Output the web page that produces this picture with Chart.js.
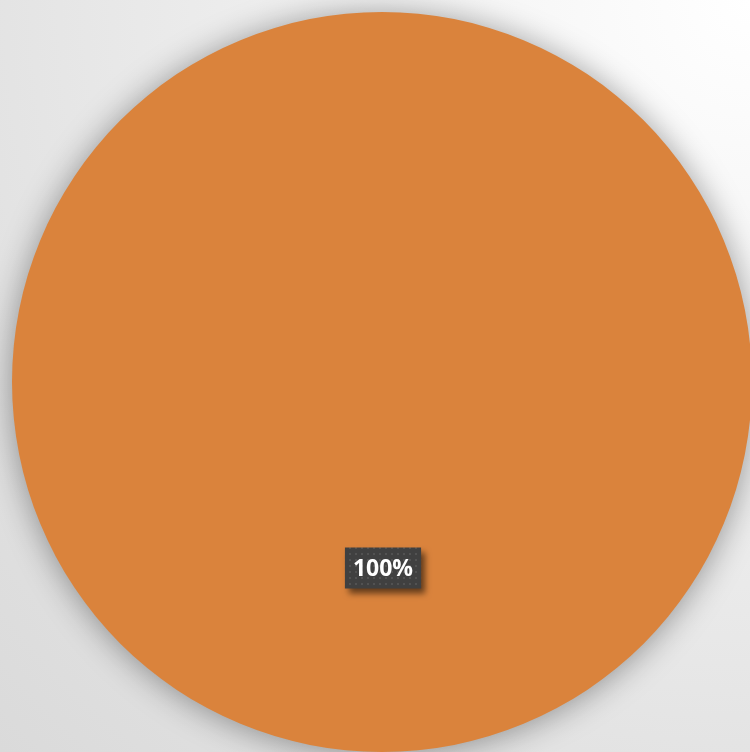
<!DOCTYPE html>
<html>
<head>
<meta charset="utf-8">
<script src="https://cdn.jsdelivr.net/npm/chart.js@4.4.1/dist/chart.umd.min.js"></script>
<style>
    html, body {
        margin: 0;
        padding: 0;
        width: 750px;
        height: 752px;
        overflow: hidden;
        background: radial-gradient(circle at 100% 0%, #ffffff 0%, #f2f2f2 35%, #e2e2e2 75%, #dadada 100%);
    }
    #wrap {
        position: absolute;
        left: 0;
        top: 0;
        width: 764px;
        height: 764px;
    }
</style>
</head>
<body>
<div id="wrap"><canvas id="pieChart" width="764" height="764"></canvas></div>
<script>
// Chart data
const categories = ['Series 1'];
const values = [100];
const sliceColors = ['#DA833C'];

// dark box with faint dot pattern for the data label
function makeDotPattern(ctx) {
    const p = document.createElement('canvas');
    p.width = 6;
    p.height = 6;
    const pc = p.getContext('2d');
    pc.fillStyle = '#404040';
    pc.fillRect(0, 0, 6, 6);
    pc.fillStyle = '#525252';
    pc.fillRect(1, 1, 2, 2);
    return ctx.createPattern(p, 'repeat');
}

// soft shadow behind the pie
const pieShadow = {
    id: 'pieShadow',
    beforeDatasetsDraw(chart) {
        const ctx = chart.ctx;
        ctx.save();
        ctx.shadowColor = 'rgba(0, 0, 0, 0.38)';
        ctx.shadowBlur = 32;
        ctx.shadowOffsetX = 0;
        ctx.shadowOffsetY = 2;
    },
    afterDatasetsDraw(chart) {
        chart.ctx.restore();
    }
};

// percentage labels in boxes
const boxLabels = {
    id: 'boxLabels',
    afterDraw(chart) {
        const ctx = chart.ctx;
        const meta = chart.getDatasetMeta(0);
        const data = chart.data.datasets[0].data;
        const total = data.reduce((a, b) => a + b, 0);
        meta.data.forEach((arc, i) => {
            const mid = (arc.startAngle + arc.endAngle) / 2;
            const r = arc.outerRadius * 0.5;
            const x = arc.x + Math.cos(mid) * r + 1;
            const y = arc.y + Math.sin(mid) * r + 1;
            const text = Math.round(data[i] / total * 100) + '%';
            ctx.save();
            ctx.font = 'bold 23px "Open Sans", "Liberation Sans", sans-serif';
            const w = ctx.measureText(text).width + 16;
            const h = 41;
            ctx.shadowColor = 'rgba(0, 0, 0, 0.55)';
            ctx.shadowBlur = 6;
            ctx.shadowOffsetX = 4;
            ctx.shadowOffsetY = 5;
            ctx.fillStyle = makeDotPattern(ctx);
            ctx.fillRect(x - w / 2, y - h / 2, w, h);
            ctx.shadowColor = 'transparent';
            ctx.fillStyle = '#ffffff';
            ctx.textAlign = 'center';
            ctx.textBaseline = 'middle';
            ctx.fillText(text, x, y + 1);
            ctx.restore();
        });
    }
};

new Chart(document.getElementById('pieChart').getContext('2d'), {
    type: 'pie',
    data: {
        labels: categories,
        datasets: [{
            data: values,
            backgroundColor: sliceColors,
            borderWidth: 0,
        }]
    },
    options: {
        responsive: false,
        animation: false,
        layout: {
            padding: 12
        },
        plugins: {
            legend: { display: false },
            tooltip: { enabled: false }
        }
    },
    plugins: [pieShadow, boxLabels]
});
</script>
</body>
</html>
